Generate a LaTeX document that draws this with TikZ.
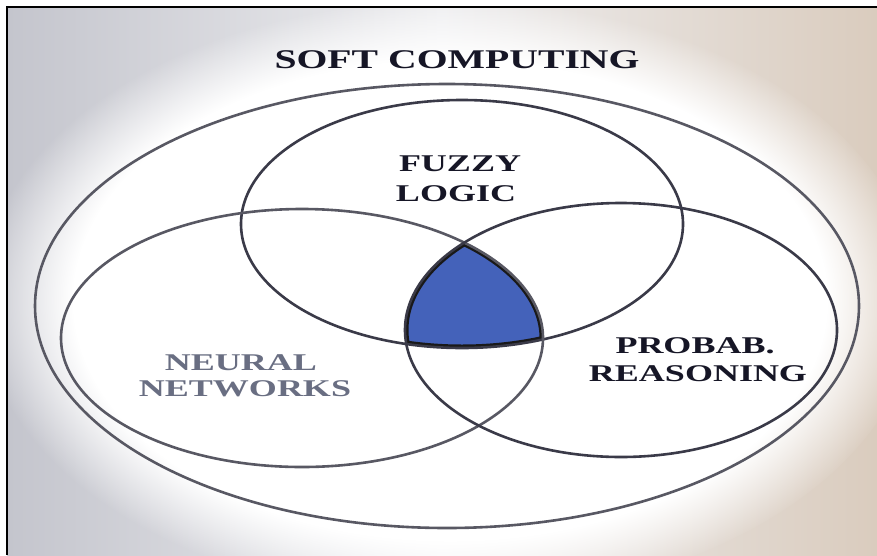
\documentclass[tikz,border=0pt]{standalone}
\usepackage{fontspec}
\setmainfont{Liberation Serif}
\usetikzlibrary{fadings}
\definecolor{bgL}{RGB}{196,197,205}
\definecolor{bgM}{RGB}{238,238,240}
\definecolor{bgR}{RGB}{218,204,190}
\definecolor{ink}{RGB}{22,22,38}
\definecolor{inkgray}{RGB}{105,110,130}
\definecolor{ring}{RGB}{58,58,72}
\definecolor{fillblue}{RGB}{68,98,186}
\begin{document}
\begin{tikzpicture}[x=1pt,y=-1pt,
  ringline/.style={draw=ring, line width=2.6pt},
  lbl/.style={font=\fontsize{24}{28}\selectfont\bfseries, text=ink, xscale=1.5, anchor=base, inner sep=0pt},
  bigtitle/.style={font=\fontsize{27}{30}\selectfont\bfseries, text=ink, xscale=1.47, anchor=base, inner sep=0pt}
]
\useasboundingbox (0,0) rectangle (877,555);
\fill[white] (0,0) rectangle (877,555);
\shade[left color=bgL, right color=bgR, middle color=bgM] (7,7) rectangle (877,555);
\fill[white, path fading=circle with fuzzy edge 20 percent] (450,300) ellipse [x radius=470pt, y radius=300pt];
\draw[line width=2pt, black] (7,555) -- (7,7) -- (877,7);

% shaded common region
\begin{scope}
  \clip (302,338) ellipse [x radius=241pt, y radius=129pt];
  \clip (621,330) ellipse [x radius=216pt, y radius=127pt];
  \clip (462,224) ellipse [x radius=221pt, y radius=124pt];
  \fill[fillblue] (462,224) ellipse [x radius=221pt, y radius=124pt];
  \draw[line width=7pt, black!90] (302,338) ellipse [x radius=241pt, y radius=129pt];
  \draw[line width=7pt, black!90] (621,330) ellipse [x radius=216pt, y radius=127pt];
  \draw[line width=7pt, black!90] (462,224) ellipse [x radius=221pt, y radius=124pt];
\end{scope}

% ellipses
\draw[ringline, draw=ring!85] (447,306) ellipse [x radius=412pt, y radius=222pt];
\draw[ringline] (462,224) ellipse [x radius=221pt, y radius=124pt];
\draw[ringline, draw=ring!85] (302,338) ellipse [x radius=241pt, y radius=129pt];
\draw[ringline] (621,330) ellipse [x radius=216pt, y radius=127pt];

% labels
\node[bigtitle] (title) at (457,68) {SOFT COMPUTING};
\node[lbl] (fz1) at (460,171) {FUZZY};
\node[lbl] (fz2) at (456,201) {LOGIC};
\node[lbl, text=inkgray] (nn1) at (241,370) {NEURAL};
\node[lbl, text=inkgray] (nn2) at (245,396) {NETWORKS};
\node[lbl] (pr1) at (695,353) {PROBAB.};
\node[lbl] (pr2) at (698,381) {REASONING};
\end{tikzpicture}
\end{document}
